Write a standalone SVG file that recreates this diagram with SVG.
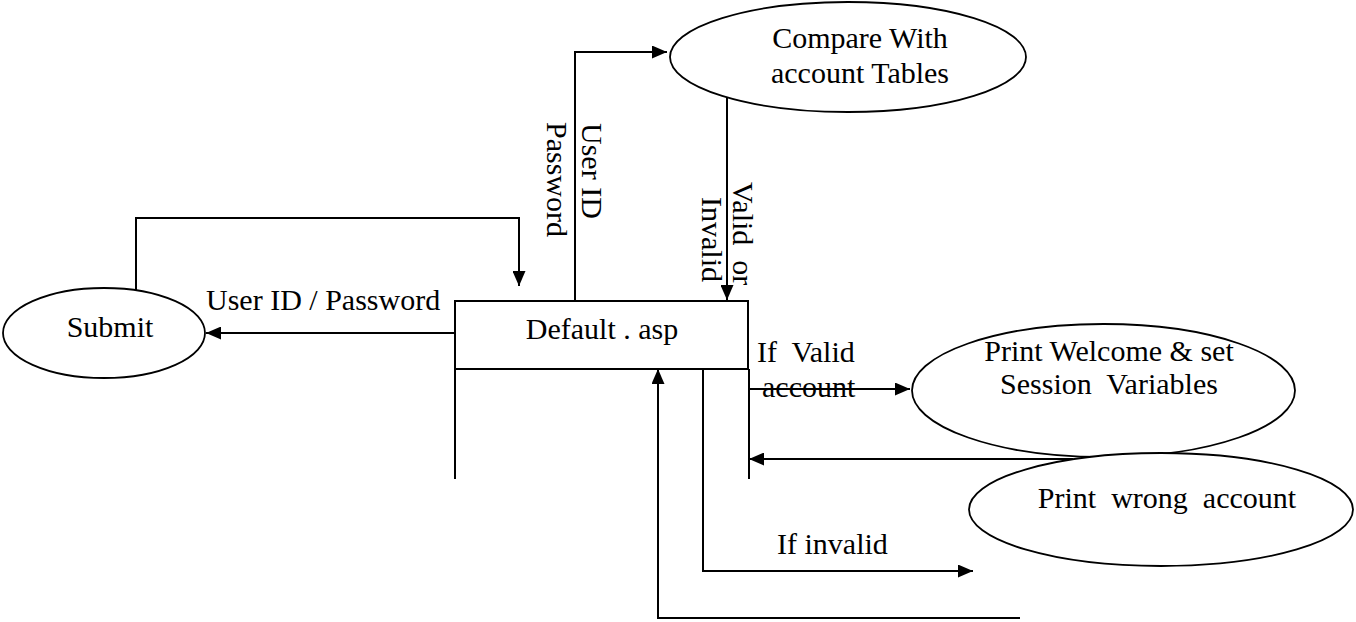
<svg xmlns="http://www.w3.org/2000/svg" width="1356" height="622" viewBox="0 0 1356 622">
  <defs>
    <marker id="arrow" markerUnits="userSpaceOnUse" markerWidth="15" markerHeight="13" refX="15" refY="6.5" orient="auto">
      <path d="M0,0 L15,6.5 L0,13 Z" fill="#000"/>
    </marker>
    <style>
      text { font-family: "Liberation Serif", "Times New Roman", serif; font-size: 30px; fill: #000; white-space: pre; }
      .mid { text-anchor: middle; }
      .shape { fill: #fff; stroke: #000; stroke-width: 1.8; }
      .box { fill: none; stroke: #000; stroke-width: 2; }
      .flow { fill: none; stroke: #000; stroke-width: 2; marker-end: url(#arrow); }
    </style>
  </defs>

  <rect width="1356" height="622" fill="#fff"/>

  <!-- processes -->
  <g id="submit">
    <ellipse class="shape" cx="104" cy="333" rx="101" ry="45"/>
    <text class="mid" x="110" y="337">Submit</text>
  </g>

  <g id="default-asp">
    <path class="box" d="M455,479 V301 H748 V369 H455 M749,369 V479"/>
    <text class="mid" x="602" y="339">Default . asp</text>
  </g>

  <g id="compare">
    <ellipse class="shape" cx="848" cy="57" rx="178" ry="55"/>
    <text class="mid" x="860" y="48">Compare With</text>
    <text class="mid" x="860" y="83">account Tables</text>
  </g>

  <g id="welcome">
    <ellipse class="shape" cx="1103.5" cy="390.5" rx="191.5" ry="66.5"/>
    <text class="mid" x="1109" y="361">Print Welcome &amp; set</text>
    <text class="mid" x="1109" y="394">Session  Variables</text>
  </g>

  <g id="wrong-account">
    <ellipse class="shape" cx="1161" cy="509.5" rx="192" ry="56.5"/>
    <text class="mid" x="1167" y="508">Print  wrong  account</text>
  </g>

  <!-- data flows -->
  <g id="connectors">
    <path class="flow" d="M136,290 V218 H519 V286"/>
    <path class="flow" d="M455,333 H206"/>
    <path class="flow" d="M575,300 V52 H667"/>
    <path class="flow" d="M727,97 V300"/>
    <path class="flow" d="M749,389 H910"/>
    <path class="flow" d="M1073,459 H749"/>
    <path class="flow" d="M703,369 V571 H973"/>
    <path class="flow" d="M1020,618 H658 V369"/>
  </g>

  <!-- flow labels -->
  <g id="labels">
    <text x="206" y="310">User ID / Password</text>
    <text transform="translate(582,123) rotate(90)">User ID</text>
    <text transform="translate(547,122) rotate(90)">Password</text>
    <text transform="translate(733,182) rotate(90)">Valid  or</text>
    <text transform="translate(702,197) rotate(90)">Invalid</text>
    <text x="757" y="362">If  Valid</text>
    <text x="762" y="397">account</text>
    <text x="777" y="554">If invalid</text>
  </g>
</svg>
